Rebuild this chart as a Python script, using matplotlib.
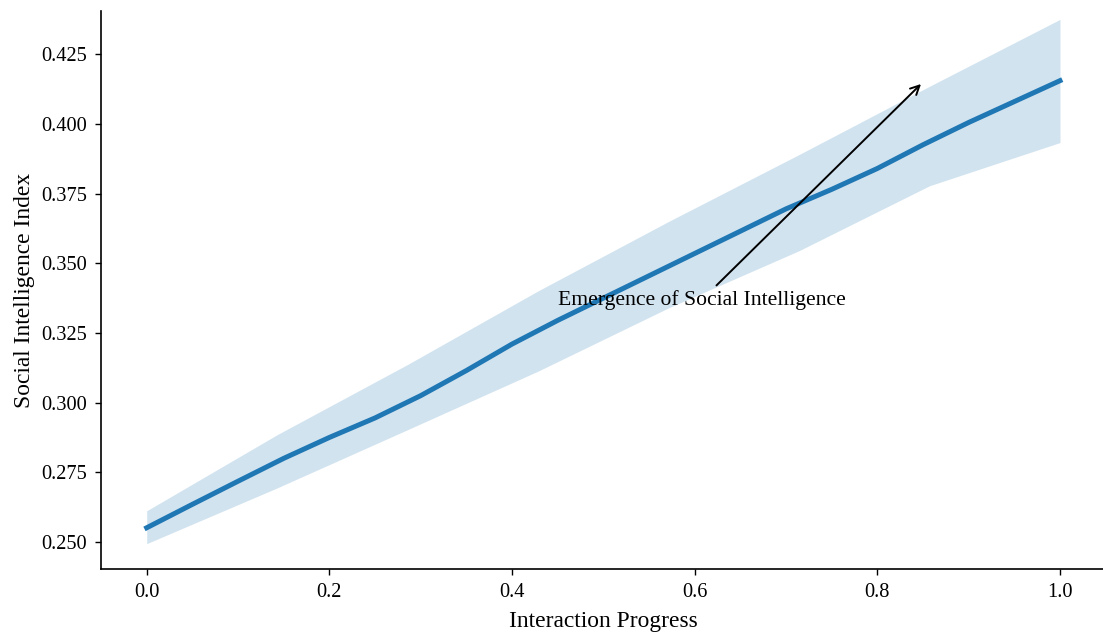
import matplotlib
matplotlib.use("Agg")
import matplotlib.pyplot as plt
import numpy as np

plt.rcParams['font.family'] = ['Liberation Serif', 'DejaVu Serif']

# mean curve
progress = np.linspace(0, 1, 21)
sii_mean = [0.2551, 0.2635, 0.2718, 0.2800, 0.2875, 0.2945, 0.3025, 0.3115,
            0.3210, 0.3295, 0.3375, 0.3455, 0.3535, 0.3615, 0.3695, 0.3765,
            0.3840, 0.3925, 0.4005, 0.4080, 0.4155]

# confidence band (coarser sampling)
band_x = np.linspace(0, 1, 8)
band_upper = [0.2612, 0.2885, 0.3137, 0.3401, 0.3650, 0.3890, 0.4135, 0.4375]
band_lower = [0.2494, 0.2694, 0.2903, 0.3113, 0.3340, 0.3545, 0.3778, 0.3933]

yticks = [0.250, 0.275, 0.300, 0.325, 0.350, 0.375, 0.400, 0.425]
xticks = [0.0, 0.2, 0.4, 0.6, 0.8, 1.0]

fig = plt.figure(figsize=(11.03, 6.32), dpi=100)
ax = fig.add_axes([0.0916, 0.0992, 0.9108, 0.8834])

ax.fill_between(band_x, band_lower, band_upper, color='#1f77b4', alpha=0.2, linewidth=0)
ax.plot(progress, sii_mean, color='#1f77b4', linewidth=3.6)

ax.annotate('Emergence of Social Intelligence', xy=(0.85, 0.415), xytext=(0.45, 0.335),
            fontsize=15.6, arrowprops=dict(arrowstyle='->', color='black', lw=1.4,
                                           mutation_scale=16))

ax.set_xlim(-0.05, 1.05)
ax.set_ylim(0.2402, 0.4405)
ax.set_xticks(xticks)
ax.set_yticks(yticks)
ax.set_xticklabels([f'{t:.1f}' for t in xticks])
ax.set_yticklabels([f'{t:.3f}' for t in yticks])
ax.tick_params(labelsize=14.7, length=4.5, width=1.0, pad=5.5)

ax.set_xlabel('Interaction Progress', fontsize=16.9, labelpad=6)
ax.set_ylabel('Social Intelligence Index', fontsize=16.9, labelpad=4.5)

ax.spines['top'].set_visible(False)
ax.spines['right'].set_visible(False)
for s in ['left', 'bottom']:
    ax.spines[s].set_linewidth(1.2)

fig.savefig('out.png', dpi=100)
